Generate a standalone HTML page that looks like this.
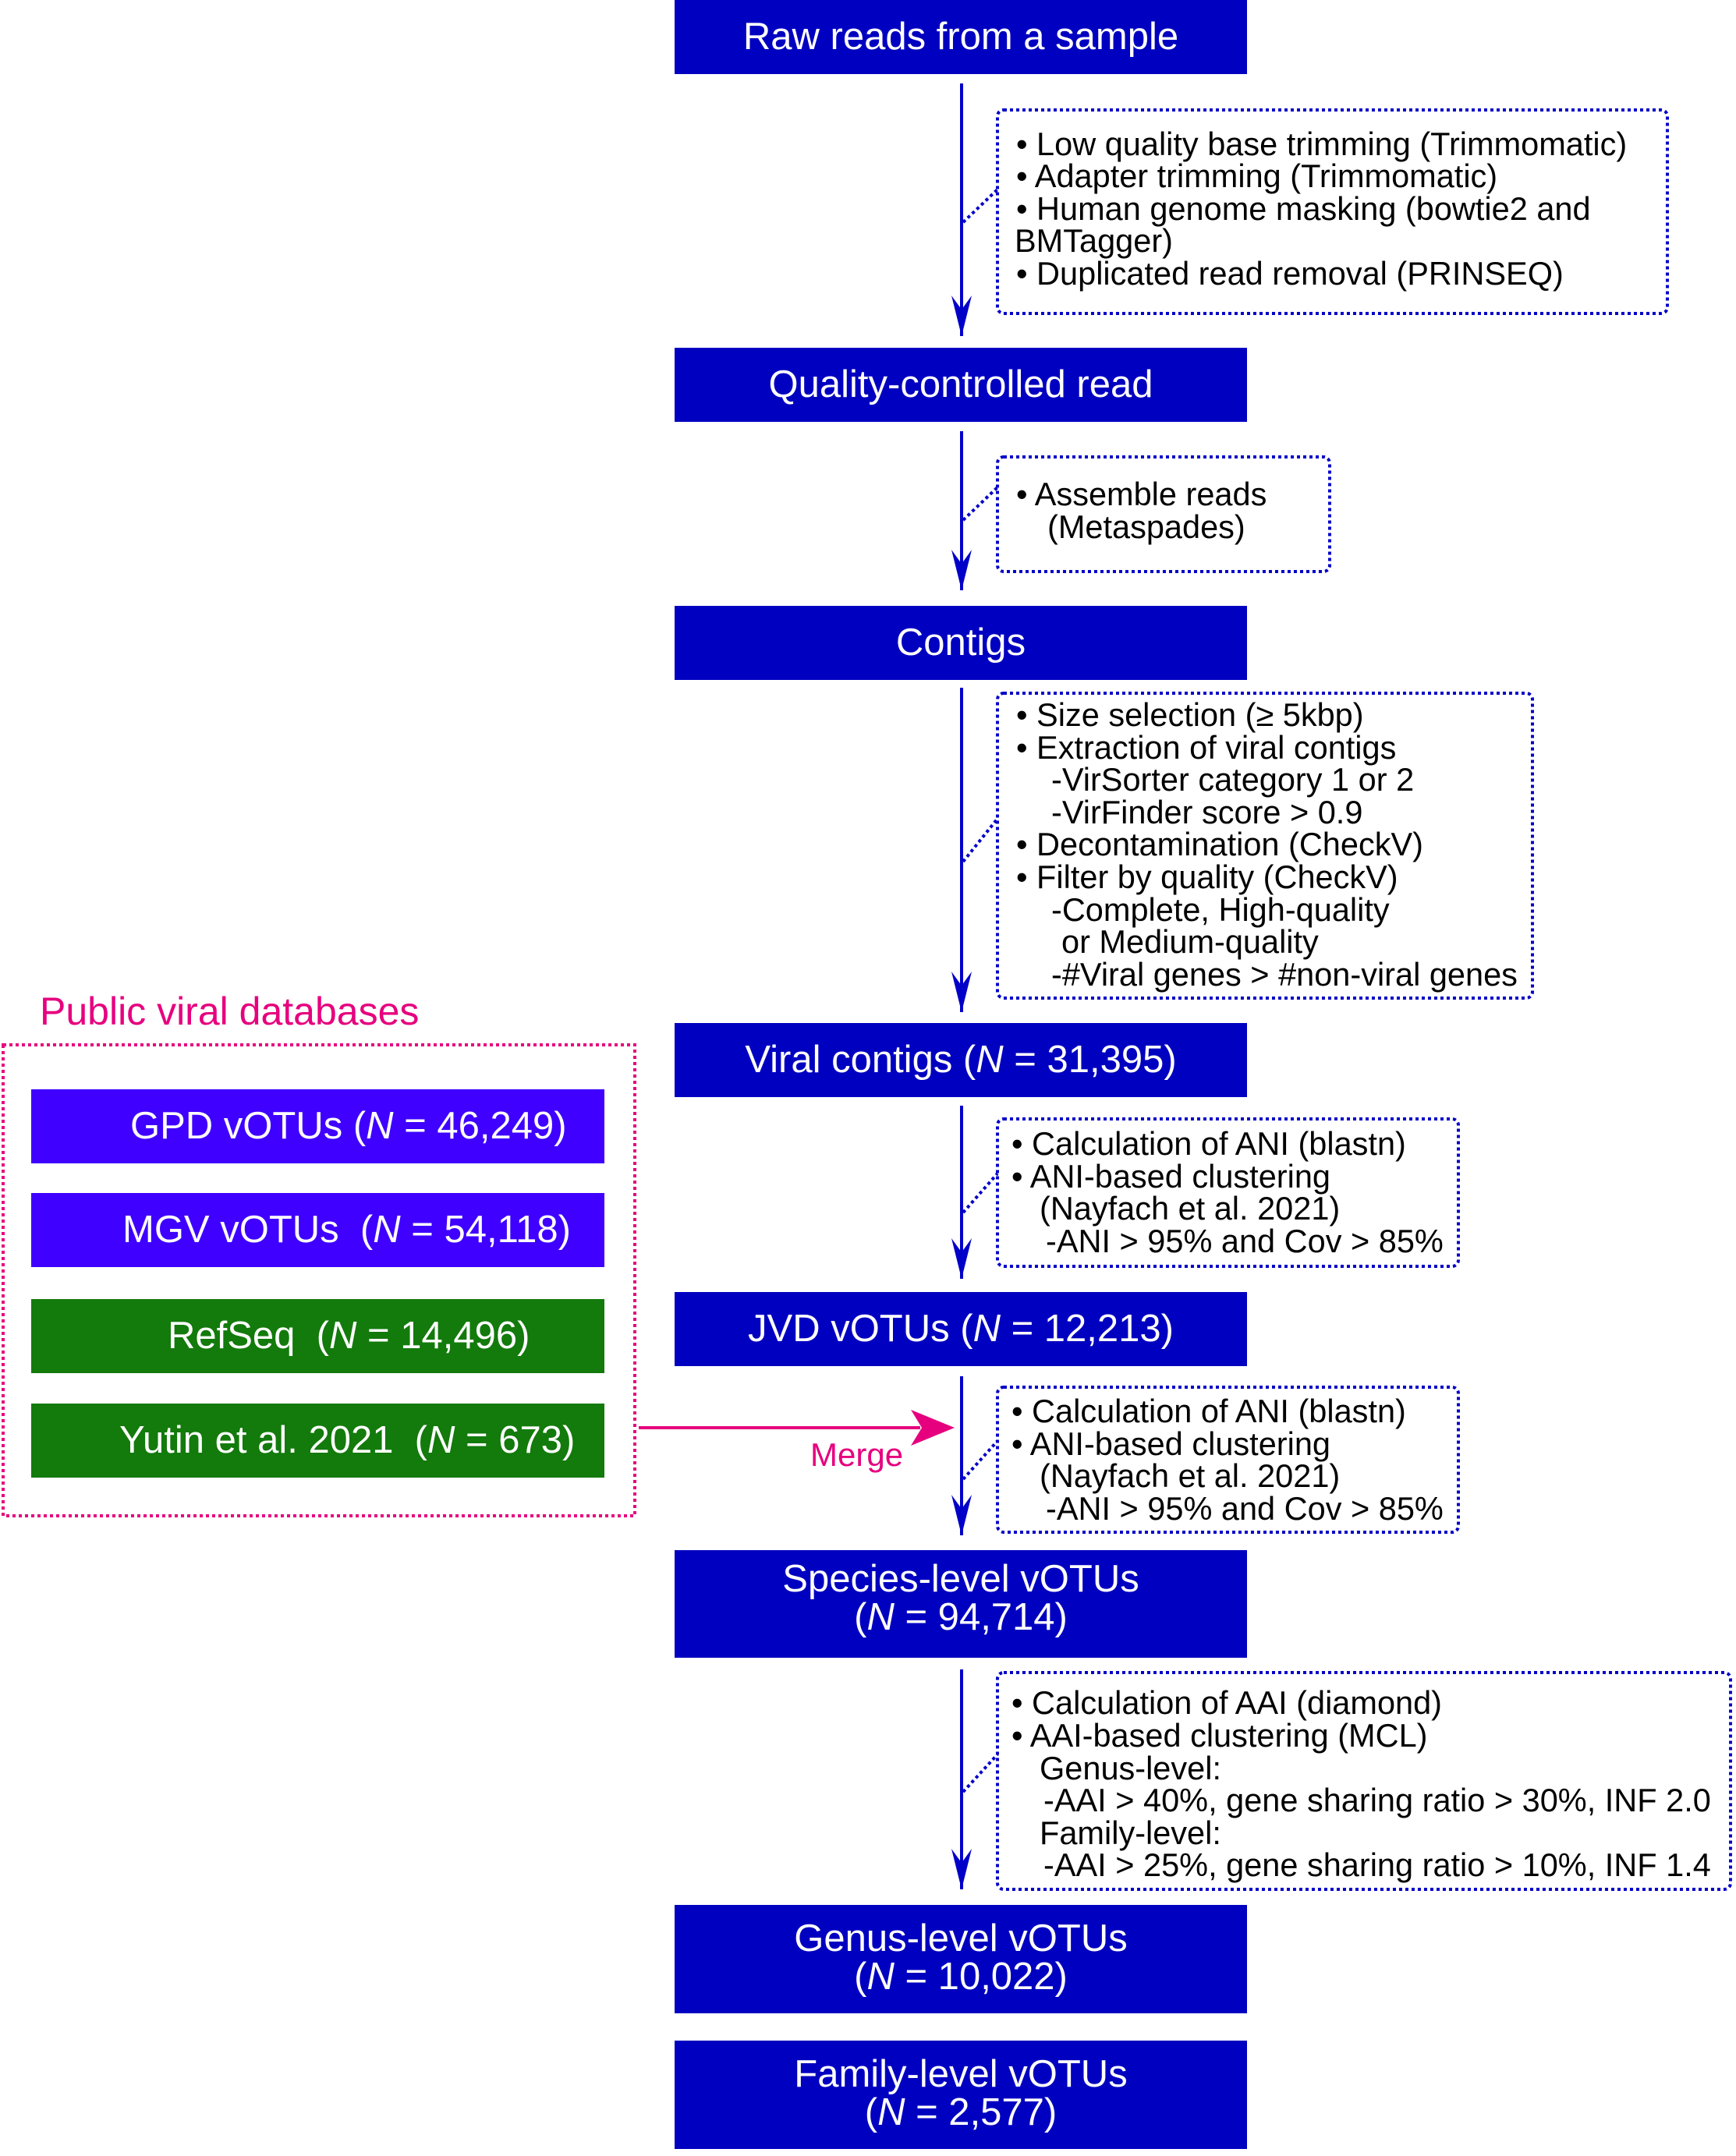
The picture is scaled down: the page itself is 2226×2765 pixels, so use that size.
<!DOCTYPE html>
<html><head><meta charset="utf-8"><style>
html,body{margin:0;padding:0;background:#fff;}
svg{display:block;font-family:"Liberation Sans",Arial,sans-serif;}
text{white-space:pre;}
</style></head><body>
<svg width="2226" height="2765" viewBox="0 0 2226 2765" xmlns="http://www.w3.org/2000/svg">
<defs>
<marker id="ah" markerWidth="30" markerHeight="54" refX="15" refY="52" orient="0" markerUnits="userSpaceOnUse">
<path d="M15,52 L2,0 L15,18 L28,0 Z" fill="#0000c8"/>
</marker>
</defs>
<g fill="#0000c0">
<rect x="865" y="0" width="734" height="95"/>
<rect x="865" y="446" width="734" height="95"/>
<rect x="865" y="777" width="734" height="95"/>
<rect x="865" y="1312" width="734" height="95"/>
<rect x="865" y="1657" width="734" height="95"/>
<rect x="865" y="1988" width="734" height="138"/>
<rect x="865" y="2443" width="734" height="139"/>
<rect x="865" y="2617" width="734" height="139"/>
</g>
<g fill="#fff" font-size="49" text-anchor="middle">
<text x="1232" y="63">Raw reads from a sample</text>
<text x="1232" y="509">Quality-controlled read</text>
<text x="1232" y="840">Contigs</text>
<text x="1232" y="1375">Viral contigs (<tspan font-style="italic">N</tspan> = 31,395)</text>
<text x="1232" y="1720">JVD vOTUs (<tspan font-style="italic">N</tspan> = 12,213)</text>
<text x="1232" y="2041">Species-level vOTUs</text>
<text x="1232" y="2090">(<tspan font-style="italic">N</tspan> = 94,714)</text>
<text x="1232" y="2502">Genus-level vOTUs</text>
<text x="1232" y="2551">(<tspan font-style="italic">N</tspan> = 10,022)</text>
<text x="1232" y="2676">Family-level vOTUs</text>
<text x="1232" y="2725">(<tspan font-style="italic">N</tspan> = 2,577)</text>
</g>
<g stroke="#0000c8" stroke-width="4" marker-end="url(#ah)">
<line x1="1233" y1="107" x2="1233" y2="431"/>
<line x1="1233" y1="553" x2="1233" y2="757"/>
<line x1="1233" y1="882" x2="1233" y2="1298"/>
<line x1="1233" y1="1418" x2="1233" y2="1640"/>
<line x1="1233" y1="1765" x2="1233" y2="1969"/>
<line x1="1233" y1="2141" x2="1233" y2="2423"/>
</g>
<g fill="none" stroke="#0000c8" stroke-width="4" stroke-dasharray="4,4">
<rect x="1279" y="141" width="859" height="261" rx="8"/>
<rect x="1279" y="586" width="426" height="147" rx="8"/>
<rect x="1279" y="889" width="686" height="391" rx="8"/>
<rect x="1279" y="1435" width="591" height="189" rx="8"/>
<rect x="1279" y="1779" width="591" height="186" rx="8"/>
<rect x="1279" y="2145" width="940" height="278" rx="8"/>
<line x1="1235" y1="285" x2="1279" y2="243"/>
<line x1="1235" y1="667" x2="1279" y2="625"/>
<line x1="1235" y1="1105" x2="1279" y2="1050"/>
<line x1="1235" y1="1555" x2="1279" y2="1505"/>
<line x1="1235" y1="1897" x2="1279" y2="1848"/>
<line x1="1235" y1="2298" x2="1279" y2="2250"/>
</g>
<g fill="#000" font-size="41.5">
<text x="1303" y="199">• Low quality base trimming (Trimmomatic)</text>
<text x="1303" y="240">• Adapter trimming (Trimmomatic)</text>
<text x="1303" y="282">• Human genome masking (bowtie2 and</text>
<text x="1301" y="323">BMTagger)</text>
<text x="1303" y="365">• Duplicated read removal (PRINSEQ)</text>

<text x="1303" y="648">• Assemble reads</text>
<text x="1343" y="690">(Metaspades)</text>

<text x="1303" y="931">• Size selection (≥ 5kbp)</text>
<text x="1303" y="973">• Extraction of viral contigs</text>
<text x="1348" y="1014">-VirSorter category 1 or 2</text>
<text x="1348" y="1056">-VirFinder score &gt; 0.9</text>
<text x="1303" y="1097">• Decontamination (CheckV)</text>
<text x="1303" y="1139">• Filter by quality (CheckV)</text>
<text x="1348" y="1181">-Complete, High-quality</text>
<text x="1361" y="1222">or Medium-quality</text>
<text x="1348" y="1264">-#Viral genes &gt; #non-viral genes</text>

<text x="1297" y="1481">• Calculation of ANI (blastn)</text>
<text x="1297" y="1523">• ANI-based clustering</text>
<text x="1333" y="1564">(Nayfach et al. 2021)</text>
<text x="1341" y="1606">-ANI &gt; 95% and Cov &gt; 85%</text>

<text x="1297" y="1824">• Calculation of ANI (blastn)</text>
<text x="1297" y="1866">• ANI-based clustering</text>
<text x="1333" y="1907">(Nayfach et al. 2021)</text>
<text x="1341" y="1949">-ANI &gt; 95% and Cov &gt; 85%</text>

<text x="1297" y="2198">• Calculation of AAI (diamond)</text>
<text x="1297" y="2240">• AAI-based clustering (MCL)</text>
<text x="1333" y="2282">Genus-level:</text>
<text x="1338" y="2323">-AAI &gt; 40%, gene sharing ratio &gt; 30%, INF 2.0</text>
<text x="1333" y="2365">Family-level:</text>
<text x="1338" y="2406">-AAI &gt; 25%, gene sharing ratio &gt; 10%, INF 1.4</text>
</g>
<text x="51" y="1314" font-size="50" fill="#e6007e">Public viral databases</text>
<rect x="4" y="1340" width="810" height="604" fill="none" stroke="#e6007e" stroke-width="4" stroke-dasharray="4,4"/>
<rect x="40" y="1397" width="735" height="95" fill="#3f00ff"/>
<rect x="40" y="1530" width="735" height="95" fill="#3f00ff"/>
<rect x="40" y="1666" width="735" height="95" fill="#137a0c"/>
<rect x="40" y="1800" width="735" height="95" fill="#137a0c"/>
<g fill="#fff" font-size="49">
<text x="167" y="1460">GPD vOTUs (<tspan font-style="italic">N</tspan> = 46,249)</text>
<text x="157" y="1593">MGV vOTUs&#160; (<tspan font-style="italic">N</tspan> = 54,118)</text>
<text x="215" y="1729">RefSeq&#160; (<tspan font-style="italic">N</tspan> = 14,496)</text>
<text x="153" y="1863">Yutin et al. 2021&#160; (<tspan font-style="italic">N</tspan> = 673)</text>
</g>
<line x1="819" y1="1831" x2="1180" y2="1831" stroke="#e6007e" stroke-width="4"/>
<path d="M1224,1831 L1168,1808 L1182,1831 L1168,1854 Z" fill="#e6007e"/>
<text x="1039" y="1880" font-size="42" fill="#e6007e">Merge</text>
</svg>
</body></html>
